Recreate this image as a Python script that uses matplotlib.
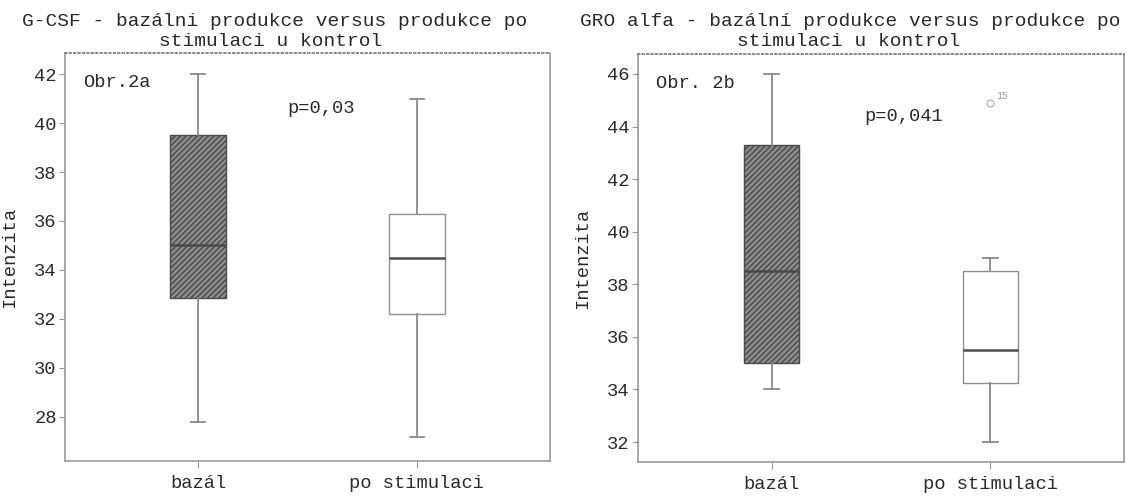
"""G-CSF and GRO alfa: basal production vs. production after stimulation in controls."""

import matplotlib

matplotlib.use("Agg")
import matplotlib.pyplot as plt

# categories
groups = ["bazál", "po stimulaci"]

# G-CSF box statistics (bazál, po stimulaci)
gcsf_whislo = [27.8, 27.2]
gcsf_q1 = [32.85, 32.2]
gcsf_med = [35.0, 34.5]
gcsf_q3 = [39.5, 36.3]
gcsf_whishi = [42.0, 41.0]
gcsf_fliers = [[], []]
gcsf_flier_ids = [[], []]

# GRO alfa box statistics (bazál, po stimulaci)
gro_whislo = [34.0, 32.0]
gro_q1 = [35.0, 34.25]
gro_med = [38.5, 35.5]
gro_q3 = [43.3, 38.5]
gro_whishi = [46.0, 39.0]
gro_fliers = [[], [44.9]]
gro_flier_ids = [[], ["15"]]

gcsf_ticks = [28, 30, 32, 34, 36, 38, 40, 42]
gro_ticks = [32, 34, 36, 38, 40, 42, 44, 46]

plt.rcParams["font.family"] = ["Liberation Mono", "DejaVu Sans Mono"]
plt.rcParams["hatch.linewidth"] = 1.0

FS = 13.5
GREY = "#8a8a8a"
TXT = "#2a2a2a"


def stats(lo, q1, med, q3, hi, fliers):
    return [
        dict(whislo=lo[i], q1=q1[i], med=med[i], q3=q3[i], whishi=hi[i], fliers=fliers[i])
        for i in range(len(groups))
    ]


def panel(ax, st, ticks, ylim, tag, pval, flier_ids):
    art = ax.bxp(
        st,
        positions=[1, 2],
        widths=0.255,
        capwidths=0.065,
        patch_artist=True,
        showfliers=True,
        boxprops=dict(linewidth=1.0),
        whiskerprops=dict(color=GREY, linewidth=1.3),
        capprops=dict(color=GREY, linewidth=1.3),
        medianprops=dict(color="#4a4a4a", linewidth=1.8),
        flierprops=dict(marker="o", markersize=5, markerfacecolor="none",
                        markeredgecolor="#aaaaaa", markeredgewidth=0.8),
    )
    hatched, plain = art["boxes"]
    hatched.set_facecolor("#8c8c8c")
    hatched.set_edgecolor("#4a4a4a")
    hatched.set_hatch("//////")
    plain.set_facecolor("white")
    plain.set_edgecolor("#8f8f8f")

    # outlier case numbers
    for i, ids in enumerate(flier_ids):
        for val, lab in zip(st[i]["fliers"], ids):
            ax.annotate(lab, (i + 1, val), xytext=(4, 3), textcoords="offset points",
                        fontsize=7, color="#999999")

    ax.set_xlim(0.39, 2.61)
    ax.set_ylim(*ylim)
    ax.set_yticks(ticks)
    ax.set_xticks([1, 2], groups)
    ax.tick_params(axis="y", direction="out", length=4, width=0.8, pad=2,
                   color="#999999", labelsize=FS, labelcolor=TXT)
    ax.tick_params(axis="x", direction="out", length=5, width=0.8, pad=5,
                   color="#999999", labelsize=FS, labelcolor=TXT)
    for sp in ax.spines.values():
        sp.set_color("#9a9a9a")
        sp.set_linewidth(1.2)
    ax.spines["top"].set_linestyle(":")
    ax.spines["top"].set_color("#777777")

    ax.set_ylabel("Intenzita", fontsize=FS, color=TXT)
    ax.yaxis.set_label_coords(-0.096, 0.5)
    ax.text(0.037, 0.927, tag, transform=ax.transAxes, fontsize=FS,
            color=TXT, va="center", ha="left")
    ax.text(pval[0], pval[1], pval[2], transform=ax.transAxes, fontsize=FS,
            color=TXT, va="center", ha="left")


fig = plt.figure(figsize=(11.27, 4.98), dpi=100)
ax1 = fig.add_axes([0.0577, 0.0743, 0.4303, 0.8193])
ax2 = fig.add_axes([0.5661, 0.0723, 0.4312, 0.8193])

panel(ax1, stats(gcsf_whislo, gcsf_q1, gcsf_med, gcsf_q3, gcsf_whishi, gcsf_fliers),
      gcsf_ticks, (26.2, 42.86), "Obr.2a", (0.458, 0.863, "p=0,03"), gcsf_flier_ids)
panel(ax2, stats(gro_whislo, gro_q1, gro_med, gro_q3, gro_whishi, gro_fliers),
      gro_ticks, (31.24, 46.76), "Obr. 2b", (0.465, 0.848, "p=0,041"), gro_flier_ids)

fig.text(275 / 1127, 1 - 22 / 498, "G-CSF - bazálni produkce versus produkce po",
         fontsize=14, color=TXT, ha="center", va="center")
fig.text(271 / 1127, 1 - 42 / 498, "stimulaci u kontrol",
         fontsize=14, color=TXT, ha="center", va="center")
fig.text(850 / 1127, 1 - 22 / 498, "GRO alfa - bazální produkce versus produkce po",
         fontsize=14, color=TXT, ha="center", va="center")
fig.text(849 / 1127, 1 - 42 / 498, "stimulaci u kontrol",
         fontsize=14, color=TXT, ha="center", va="center")

fig.savefig("out.png", dpi=100)
